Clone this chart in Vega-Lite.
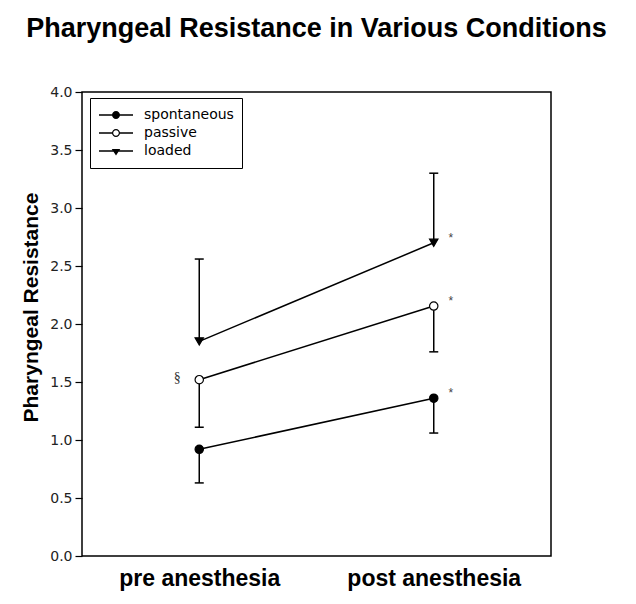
{
  "$schema": "https://vega.github.io/schema/vega-lite/v6.json",
  "width": 469,
  "height": 464,
  "autosize": {"type": "none"},
  "padding": {"left": 82, "top": 92, "right": 85, "bottom": 48},
  "background": "white",
  "config": {
    "view": {"stroke": "black", "strokeWidth": 1.5},
    "axis": {"grid": false}
  },
  "title": {
    "text": "Pharyngeal Resistance in Various Conditions",
    "font": "Liberation Sans",
    "fontSize": 27,
    "fontWeight": "bold",
    "color": "black",
    "anchor": "middle",
    "offset": 42
  },
  "data": {
    "values": [
      {"cond": "spontaneous", "time": "pre anesthesia", "mean": 0.92, "err_end": 0.63, "note": ""},
      {"cond": "spontaneous", "time": "post anesthesia", "mean": 1.36, "err_end": 1.06, "note": "*"},
      {"cond": "passive", "time": "pre anesthesia", "mean": 1.52, "err_end": 1.11, "note": "§"},
      {"cond": "passive", "time": "post anesthesia", "mean": 2.155, "err_end": 1.76, "note": "*"},
      {"cond": "loaded", "time": "pre anesthesia", "mean": 1.85, "err_end": 2.56, "note": ""},
      {"cond": "loaded", "time": "post anesthesia", "mean": 2.7, "err_end": 3.3, "note": "*"}
    ]
  },
  "encoding": {
    "x": {
      "field": "time",
      "type": "nominal",
      "sort": ["pre anesthesia", "post anesthesia"],
      "scale": {"type": "point", "padding": 0.5},
      "title": null,
      "axis": {
        "labelAngle": 0,
        "domain": false,
        "ticks": false,
        "labelPadding": 11,
        "labelFont": "Liberation Sans",
        "labelFontSize": 23,
        "labelFontWeight": "bold",
        "labelColor": "black"
      }
    }
  },
  "layer": [
    {
      "mark": {"type": "rule", "stroke": "black", "strokeWidth": 1.5},
      "encoding": {
        "y": {
          "field": "mean",
          "type": "quantitative",
          "scale": {"domain": [0, 4], "nice": false},
          "axis": {
            "values": [0, 0.5, 1, 1.5, 2, 2.5, 3, 3.5, 4],
            "format": ".1f",
            "tickSize": 7,
            "tickWidth": 1.2,
            "tickColor": "black",
            "domain": false,
            "labelFont": "DejaVu Sans",
            "labelFontSize": 14,
            "labelColor": "#222",
            "labelPadding": 3,
            "titleFont": "Liberation Sans",
            "titleFontSize": 21,
            "titleFontWeight": "bold",
            "titleColor": "black",
            "titlePadding": 8,
            "titleY": 215
          },
          "title": "Pharyngeal Resistance"
        },
        "y2": {"field": "err_end"}
      }
    },
    {
      "mark": {"type": "tick", "orient": "horizontal", "color": "black", "size": 9, "thickness": 1.5, "opacity": 1},
      "encoding": {
        "y": {"field": "err_end", "type": "quantitative"}
      }
    },
    {
      "mark": {"type": "line", "stroke": "black", "strokeWidth": 1.5},
      "encoding": {
        "y": {"field": "mean", "type": "quantitative"},
        "detail": {"field": "cond"}
      }
    },
    {
      "mark": {"type": "point", "stroke": "black", "strokeWidth": 1.2, "opacity": 1, "size": 70},
      "encoding": {
        "y": {"field": "mean", "type": "quantitative"},
        "shape": {
          "field": "cond",
          "type": "nominal",
          "scale": {"domain": ["spontaneous", "passive", "loaded"], "range": ["circle", "circle", "triangle-down"]},
          "legend": null
        },
        "fill": {
          "field": "cond",
          "type": "nominal",
          "scale": {"domain": ["spontaneous", "passive", "loaded"], "range": ["black", "white", "black"]},
          "legend": null
        }
      }
    },
    {
      "mark": {"type": "point", "filled": true, "color": "black", "opacity": 0, "size": 1156},
      "encoding": {
        "y": {"field": "mean", "type": "quantitative"},
        "shape": {
          "field": "cond",
          "type": "nominal",
          "scale": {
            "domain": ["spontaneous", "passive", "loaded"],
            "range": [
              "M-1,-0.045H1V0.045H-1ZM-0.235,0A0.235,0.235 0 1,1 0.235,0A0.235,0.235 0 1,1 -0.235,0Z",
              "M-1,-0.045H-0.2V0.045H-1ZM0.2,-0.045H1V0.045H0.2ZM-0.235,0A0.235,0.235 0 1,1 0.235,0A0.235,0.235 0 1,1 -0.235,0ZM-0.165,0A0.165,0.165 0 1,0 0.165,0A0.165,0.165 0 1,0 -0.165,0Z",
              "M-1,-0.045H1V0.045H-1ZM-0.25,-0.12L0.25,-0.12L0,0.26Z"
            ]
          },
          "legend": {
            "title": null,
            "orient": "none",
            "legendX": 8,
            "legendY": 6,
            "strokeColor": "black",
            "padding": 8,
            "symbolSize": 1156,
            "clipHeight": 18,
            "rowPadding": 0,
            "labelFont": "DejaVu Sans",
            "labelFontSize": 14,
            "labelColor": "black",
            "labelOffset": 10,
            "symbolFillColor": "black",
            "symbolOpacity": 1,
            "encode": {
              "symbols": {"update": {"opacity": {"value": 1}, "fill": {"value": "black"}}},
              "legend": {"update": {"strokeWidth": {"value": 1.5}}}
            }
          }
        }
      }
    },
    {
      "transform": [{"filter": "datum.note == '*'"}],
      "mark": {"type": "text", "dx": 17, "dy": -5, "fontSize": 12, "font": "Liberation Sans", "color": "#444"},
      "encoding": {
        "y": {"field": "mean", "type": "quantitative"},
        "text": {"field": "note"}
      }
    },
    {
      "transform": [{"filter": "datum.note == '§'"}],
      "mark": {"type": "text", "dx": -22, "dy": -2, "fontSize": 14, "font": "Liberation Serif", "color": "#333"},
      "encoding": {
        "y": {"field": "mean", "type": "quantitative"},
        "text": {"field": "note"}
      }
    }
  ],
  "resolve": {"scale": {"shape": "independent"}}
}
